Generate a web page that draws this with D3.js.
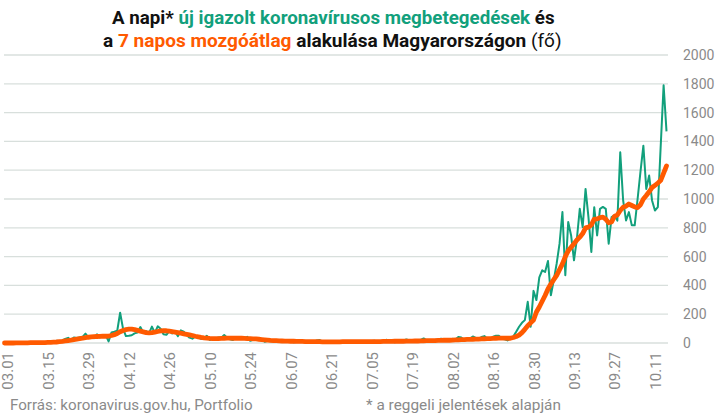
<!DOCTYPE html>
<html><head><meta charset="utf-8">
<script src="https://cdn.jsdelivr.net/npm/d3@7"></script>
<style>body{margin:0;background:#fff}svg{display:block}text{white-space:pre}</style>
</head><body><svg id="c" width="719" height="417"></svg>
<script>
const startDate = "2020-03-01";
// daily new confirmed cases (morning reports), 2020-03-01 .. 2020-10-16
const dailyCases = [
  // March
  0,0,0,2,0,2,3,0,2,4, 3,3,3,6,2,7,11,8,15,12, 18,28,36,20,39,35,39,43,65,39,45,
  // April
  33,60,38,55,55,11,73,78,85,210, 100,48,50,54,67,73,111,71,82,68, 114,70,116,99,60,57,83,66,78,48,
  // May
  88,79,56,37,30,46,39,28,35,50, 21,29,28,39,37,56,36,26,21,42, 38,42,35,43,15,22,23,25,26,9,16,
  // June
  12,14,10,18,21,12,15,14,5,7, 9,11,15,7,4,6,18,20,8,2, 5,7,11,9,10,13,8,14,10,6,
  // July
  3,10,12,8,11,14,16,6,9,13, 22,18,12,5,14,20,17,24,19,9, 11,16,21,32,18,15,12,22,25,30,19,
  // August
  14,20,29,24,42,38,16,22,31,45, 35,28,42,48,30,22,44,50,50,30, 25,18,32,45,78,113,140,159,286,113,362,
  // September
  298,455,505,493,570,332,436,551,690,909, 470,840,747,574,724,932,805,1070,874,632, 943,747,932,945,932,690,874,886,850,1324,
  // October
  990,851,909,817,817,1000,1190,1370,1070,1163, 990,920,943,1370,1790,1470
];
// 7-day moving average
const movingAvg = [
  // March
  0,0,0,0,1,1,1,1,1,2, 2,2,3,3,3,4,5,6,7,9, 11,14,17,20,24,27,30,33,37,40,42,
  // April
  44,45,46,47,47,48,52,58,66,78, 87,93,96,96,93,88,82,77,72,70, 72,76,80,84,86,85,82,79,76,72,
  // May
  68,64,60,56,52,47,43,39,36,34, 32,31,31,31,32,33,34,34,33,33, 33,33,32,31,30,29,28,26,24,22,20,
  // June
  18,17,16,15,14,13,13,12,12,11, 11,11,10,10,10,9,9,9,8,8, 8,8,8,8,8,9,9,9,9,9,
  // July
  9,9,9,9,10,10,10,10,10,11, 11,11,11,12,12,12,12,13,13,13, 14,14,15,15,16,16,17,17,18,18,19,
  // August
  19,19,20,21,22,23,24,25,25,26, 27,27,28,29,30,31,32,33,34,34, 34,33,33,38,45,55,72,95,120,140,160,
  // September
  215,250,290,330,375,410,440,470,510,550, 600,640,665,690,715,735,760,800,805,820, 860,862,870,874,860,835,840,880,890,920,
  // October
  943,950,965,955,945,940,960,1000,1024,1050, 1080,1095,1110,1130,1180,1230
];
const xTickLabels = ["03.01","03.15","03.29","04.12","04.26","05.10","05.24","06.07","06.21","07.05","07.19","08.02","08.16","08.30","09.13","09.27","10.11"];
const yTickValues = [0,200,400,600,800,1000,1200,1400,1600,1800,2000];
const titleLine1 = [
  {text:"A napi* ", color:"black"},
  {text:"új igazolt koronavírusos megbetegedések", color:"green"},
  {text:" és", color:"black"}
];
const titleLine2 = [
  {text:"a ", color:"black"},
  {text:"7 napos mozgóátlag", color:"orange"},
  {text:" alakulása Magyarországon ", color:"black"},
  {text:"(fő)", color:"black", light:true}
];
const sourceText = "Forrás: koronavirus.gov.hu, Portfolio";
const noteText = "* a reggeli jelentések alapján";

const COLORS = {black:"#111111", green:"#12a07c", orange:"#ff5a00"};
const svg = d3.select("#c");
svg.append("rect").attr("width",719).attr("height",417).attr("fill","#fff");

const parse = d3.timeParse("%Y-%m-%d");
const d0 = parse(startDate);
const dates = dailyCases.map((_, i) => d3.timeDay.offset(d0, i));
const x = d3.scaleTime().domain([dates[0], dates[dates.length-1]]).range([4.5, 666.5]);
const y = d3.scaleLinear().domain([0, 2000]).range([343, 55]);

// gridlines + right axis labels
const grid = svg.append("g");
grid.selectAll("line").data(yTickValues).join("line")
  .attr("x1", 4).attr("x2", 668)
  .attr("y1", d => y(d)).attr("y2", d => y(d))
  .attr("stroke", "#d8dfdc").attr("stroke-width", 1.3);
grid.selectAll("text").data(yTickValues).join("text")
  .attr("x", 683).attr("y", d => y(d)).attr("dy", "0.36em")
  .attr("font-family", "Roboto, sans-serif").attr("font-size", 14)
  .attr("fill", "#8a8a8a").text(d => d);

// x labels (rotated)
const yearStr = startDate.slice(0,4);
const xlab = svg.append("g");
xTickLabels.forEach(lbl => {
  const dt = parse(yearStr + "-" + lbl.replace(".", "-"));
  const px = x(dt) + 3.5;
  xlab.append("text")
    .attr("transform", `translate(${px},352) rotate(-90)`)
    .attr("text-anchor", "end").attr("dy", "0.36em")
    .attr("font-family", "Roboto, sans-serif").attr("font-size", 15)
    .attr("fill", "#8a8a8a").text(lbl);
});

// lines
const lineDaily = d3.line().x((d, i) => x(dates[i])).y(d => y(d));
svg.append("path").datum(dailyCases).attr("d", lineDaily)
  .attr("fill", "none").attr("stroke", COLORS.green).attr("stroke-width", 2)
  .attr("stroke-linejoin", "round");
svg.append("path").datum(movingAvg).attr("d", lineDaily)
  .attr("fill", "none").attr("stroke", COLORS.orange).attr("stroke-width", 4.8)
  .attr("stroke-linejoin", "round").attr("stroke-linecap", "round");

// title: natural text, horizontally condensed with a scale transform
function titleLine(segs, yPos, xCenter, len) {
  const g = svg.append("g");
  const t = g.append("text").attr("x", 0).attr("y", 0)
    .attr("font-family", "Roboto, sans-serif").attr("font-size", 19)
    .attr("font-weight", 700);
  segs.forEach(s => {
    t.append("tspan").attr("fill", COLORS[s.color])
      .attr("font-weight", s.light ? 400 : 700).text(s.text);
  });
  const w = t.node().getComputedTextLength();
  const sx = len / w;
  g.attr("transform", `translate(${xCenter - len/2},${yPos}) scale(${sx},1)`);
}
titleLine(titleLine1, 24, 333.5, 443);
titleLine(titleLine2, 47, 332.5, 459);

// footer
function footer(txt, xPos, len) {
  const g = svg.append("g");
  const t = g.append("text").attr("x", 0).attr("y", 0)
    .attr("font-family", "Roboto, sans-serif").attr("font-size", 14)
    .attr("fill", "#8a8a8a").text(txt);
  const w = t.node().getComputedTextLength();
  g.attr("transform", `translate(${xPos},410) scale(${len / w},1)`);
}
footer(sourceText, 10, 243);
footer(noteText, 366, 195);
</script></body></html>
